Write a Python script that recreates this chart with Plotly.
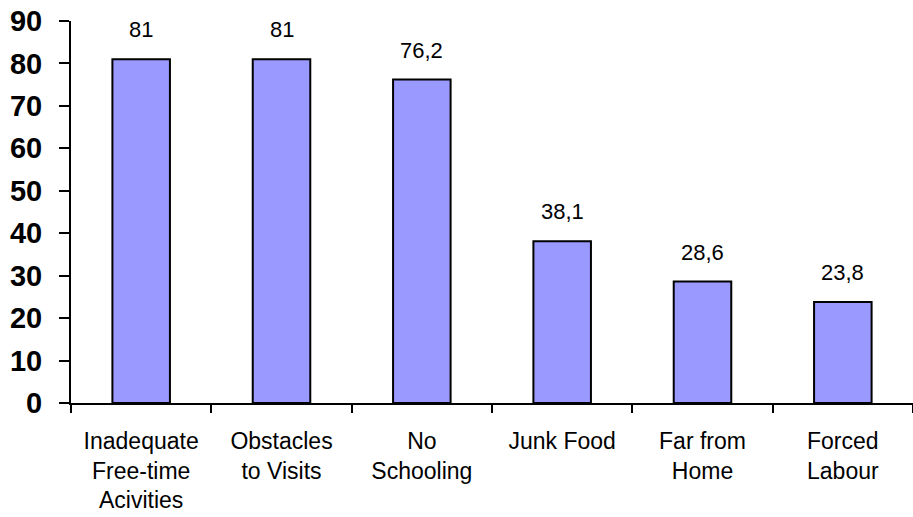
import plotly.graph_objects as go

categories = ["Inadequate<br>Free-time<br>Acivities", "Obstacles<br>to Visits", "No<br>Schooling",
              "Junk Food", "Far from<br>Home", "Forced<br>Labour"]
values = [81, 81, 76.2, 38.1, 28.6, 23.8]
y_ticks = list(range(0, 91, 10))

def fmt(v):
    s = ("%g" % v)
    return s.replace(".", ",")

FONT = "Arial, Liberation Sans, sans-serif"

fig = go.Figure()
fig.add_trace(go.Bar(
    x=categories, y=values,
    marker=dict(color="#9999FF", line=dict(color="black", width=2)),
    hoverinfo="skip",
))

for c, v in zip(categories, values):
    fig.add_annotation(x=c, y=v, text=fmt(v), showarrow=False,
                       yanchor="bottom", yshift=15,
                       font=dict(family=FONT, size=22, color="black"))

fig.update_layout(
    width=913, height=517,
    margin=dict(l=71, r=0, t=21, b=114),
    paper_bgcolor="white", plot_bgcolor="white",
    bargap=0.59,
    showlegend=False,
    xaxis=dict(
        type="category",
        showline=True, linecolor="black", linewidth=2,
        ticks="outside", tickson="boundaries", ticklen=8, tickwidth=2, tickcolor="black",
        tickfont=dict(family=FONT, size=23, color="black"),
        ticklabelstandoff=16,
        showgrid=False, zeroline=False,
    ),
    yaxis=dict(
        range=[0, 90],
        tickvals=y_ticks,
        showline=True, linecolor="black", linewidth=2,
        ticks="outside", ticklen=10, tickwidth=2, tickcolor="black",
        tickfont=dict(family=FONT, size=29, color="black", weight="bold"),
        ticklabelstandoff=11,
        showgrid=False, zeroline=False,
    ),
)

fig.write_html("out.html", config={"displayModeBar": False},
               post_script="document.body.style.margin='0';document.body.style.padding='0';")
